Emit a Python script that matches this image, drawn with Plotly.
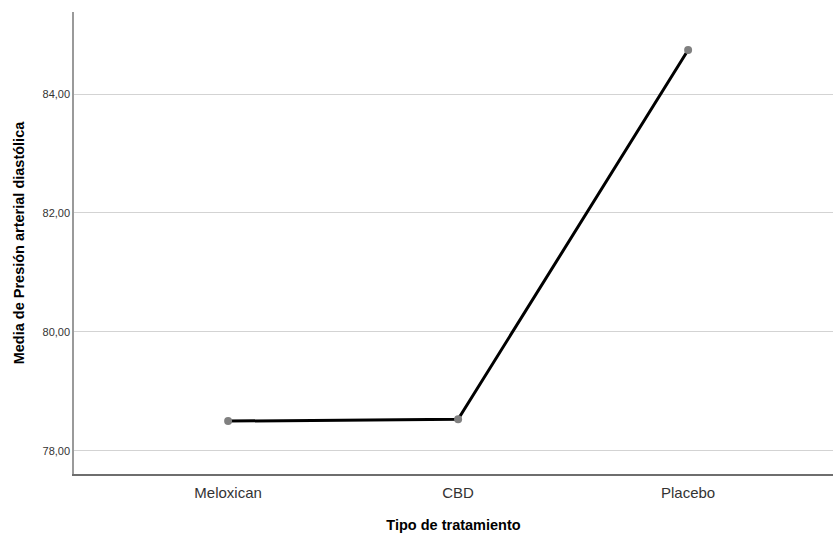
import plotly.graph_objects as go

categories = ["Meloxican", "CBD", "Placebo"]
means = [78.50, 78.53, 84.74]
y_ticks = [78, 80, 82, 84]
y_tick_labels = ["78,00", "80,00", "82,00", "84,00"]

fig = go.Figure()
fig.add_trace(go.Scatter(
    x=[0, 1, 2], y=means, mode="lines",
    line=dict(color="black", width=3), showlegend=False, hoverinfo="skip"))
fig.add_trace(go.Scatter(
    x=[0, 1, 2], y=means, mode="markers",
    marker=dict(color="#808080", size=8), showlegend=False))

fig.update_layout(
    width=833, height=536,
    margin=dict(l=74, r=0, t=12, b=62),
    paper_bgcolor="white", plot_bgcolor="white",
    font=dict(family="Liberation Sans, Arial, sans-serif", color="#222"),
    xaxis=dict(
        range=[-0.67, 2.63], tickmode="array", tickvals=[0, 1, 2], ticktext=categories,
        showgrid=False, zeroline=False, showline=True, linecolor="#6e6e6e", linewidth=1.5,
        ticks="", tickfont=dict(size=15, color="#333"), ticklabelstandoff=4,
        title=dict(text="<b>Tipo de tratamiento</b>", font=dict(size=14.5, color="black"), standoff=20),
    ),
    yaxis=dict(
        range=[77.61, 85.38], tickmode="array", tickvals=y_ticks, ticktext=y_tick_labels,
        showgrid=True, gridcolor="#d3d3d3", gridwidth=1.2, zeroline=False,
        showline=True, linecolor="#9a9a9a", linewidth=1.5,
        ticks="", tickfont=dict(size=11, color="#333"),
        title=dict(text="<b>Media de Presión arterial diastólica</b>", font=dict(size=14.5, color="black"), standoff=14),
    ),
)
fig.write_html(
    "out.html",
    config={"displayModeBar": False},
    post_script="document.body.style.margin='0';document.body.style.overflow='hidden';",
)
